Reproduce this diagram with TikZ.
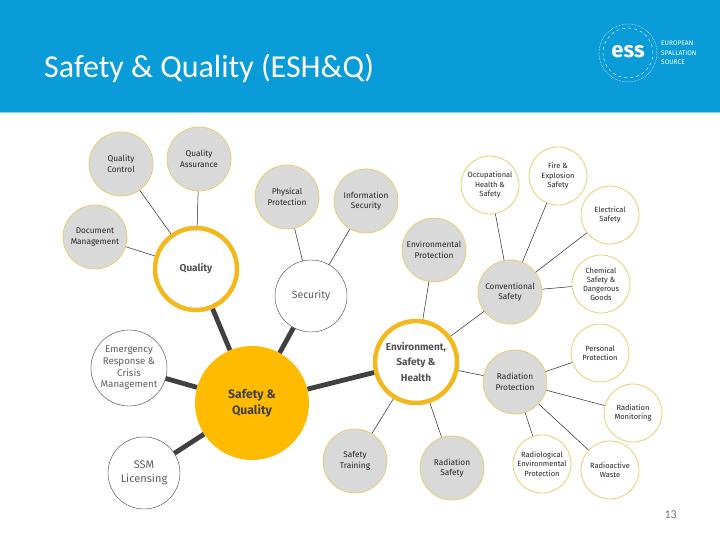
\documentclass[tikz,border=0pt]{standalone}
\usepackage{fontspec}
\setmainfont{Fira Sans}
\newfontfamily\titlefont{Carlito}
\usetikzlibrary{positioning}
\definecolor{essblue}{HTML}{0A9CD8}
\definecolor{essgold}{HTML}{F5B81C}
\definecolor{hubgold}{HTML}{FFBB00}
\definecolor{rimgold}{HTML}{E6CF70}
\definecolor{leafgray}{HTML}{D9D9D9}
\definecolor{inkgray}{HTML}{404040}
\tikzset{
every node/.style={circle, inner sep=0pt, align=center, text=inkgray},
on grid,
hub/.style={fill=hubgold, minimum size=114pt, font=\bfseries\fontsize{12.2}{15.5}\selectfont},
branch/.style={draw=essgold, line width=4.5pt, fill=white, minimum size=82pt, text=inkgray!90, font=\bfseries\fontsize{10}{15.5}\selectfont},
outline/.style={draw=inkgray, line width=0.4pt, fill=white, text=inkgray!85, minimum size=72pt},
topic/.style={draw=rimgold, line width=0.8pt, fill=leafgray, minimum size=64pt, text=black!85, font=\fontsize{8.3}{10.6}\selectfont},
subtopic/.style={draw=rimgold, line width=0.8pt, fill=white, minimum size=58pt, text=black!85, font=\fontsize{7.5}{9.2}\selectfont},
thinlink/.style={draw=black!85, line width=0.5pt},
thicklink/.style={draw=inkgray, line width=4.8pt},
label text/.style={rectangle, text=white, align=left}
}

\begin{document}
\begin{tikzpicture}
\useasboundingbox (0,0) rectangle (720pt,-540pt);
\fill[essblue] (0,0) rectangle (720pt,-112pt);
\draw[essblue!50, line width=0.8pt] (0,-112pt) -- (720pt,-112pt);
\node[label text, anchor=base west, font=\titlefont\fontsize{32}{34}\selectfont] (title) at (44pt,-77.5pt) {Safety \& Quality (ESH\&Q)};
% logo
\draw[white, line width=0.5pt, densely dotted] (628pt,-53pt) circle[radius=29pt];
\draw[white, line width=0.4pt, dashed] (628pt,-53pt) circle[radius=25pt];
\node[label text, font=\bfseries\fontsize{22}{22}\selectfont] (ess) at (628pt,-52pt) {ess};
\node[label text, anchor=west, font=\fontsize{6.6}{9.6}\selectfont] (essname) at (661pt,-53pt) {EUROPEAN\\SPALLATION\\SOURCE};
\node[rectangle, anchor=base east, text=black!55, font=\titlefont\fontsize{12}{12}\selectfont] (pagenum) at (677pt,-518pt) {13};

% main circles
\node[hub] (sq) at (252pt,-403pt) {Safety \&\\Quality};
\node[branch, above left=134pt and 56pt of sq] (qual) {Quality};
\node[outline, above right=107pt and 59pt of sq, font=\fontsize{10.5}{13}\selectfont] (sec) {Security};
\node[branch, above right=41pt and 164pt of sq] (ehs) {Environment,\\Safety \&\\Health};
\node[outline, minimum size=76pt, above left=35pt and 123pt of sq, font=\fontsize{9.7}{11.6}\selectfont] (erc) {Emergency\\Response \&\\Crisis\\Management};
\node[outline, below left=70pt and 108pt of sq, font=\fontsize{11}{14.5}\selectfont] (ssm) {SSM\\Licensing};

% quality and security
\node[topic, above left=105pt and 75pt of qual] (qc) {Quality\\Control};
\node[topic, above right=110pt and 3pt of qual] (qa) {Quality\\Assurance};
\node[topic, above left=32pt and 101pt of qual] (doc) {Document\\Management};
\node[topic, above left=99pt and 24pt of sec] (phys) {Physical\\Protection};
\node[topic, above right=95pt and 55pt of sec] (info) {Information\\Security};

% environment, safety and health
\node[topic, above right=112pt and 18pt of ehs] (envp) {Environmental\\Protection};
\node[topic, above right=70pt and 94pt of ehs] (conv) {Conventional\\Safety};
\node[topic, below right=20pt and 99pt of ehs] (radp) {Radiation\\Protection};
\node[topic, below left=99pt and 61pt of ehs] (train) {Safety\\Training};
\node[topic, below right=106pt and 36pt of ehs] (rads) {Radiation\\Safety};

\node[subtopic, above left=107pt and 20pt of conv] (occ) {Occupational\\Health \&\\Safety};
\node[subtopic, above right=116pt and 48pt of conv] (fire) {Fire \&\\Explosion\\Safety};
\node[subtopic, above right=77pt and 100pt of conv] (elec) {Electrical\\Safety};
\node[subtopic, above right=8pt and 91pt of conv] (chem) {Chemical\\Safety \&\\Dangerous\\Goods};
\node[subtopic, above right=29pt and 85pt of radp] (pers) {Personal\\Protection};
\node[subtopic, below right=31pt and 118pt of radp] (mon) {Radiation\\Monitoring};
\node[subtopic, below right=82pt and 27pt of radp] (renv) {Radiological\\Environmental\\Protection};
\node[subtopic, below right=88pt and 95pt of radp] (waste) {Radioactive\\Waste};

\draw[thicklink]
(sq) edge (qual)
(sq) edge (sec)
(sq) edge (ehs)
(sq) edge (erc)
(sq) edge (ssm)
;
\draw[thinlink]
(qual) edge (qc)
(qual) edge (qa)
(qual) edge (doc)
(sec) edge (phys)
(sec) edge (info)
(ehs) edge (envp)
(ehs) edge (conv)
(ehs) edge (radp)
(ehs) edge (train)
(ehs) edge (rads)
(conv) edge (occ)
(conv) edge (fire)
(conv) edge (elec)
(conv) edge (chem)
(radp) edge (pers)
(radp) edge (mon)
(radp) edge (renv)
(radp) edge (waste)
;
\end{tikzpicture}
\end{document}
